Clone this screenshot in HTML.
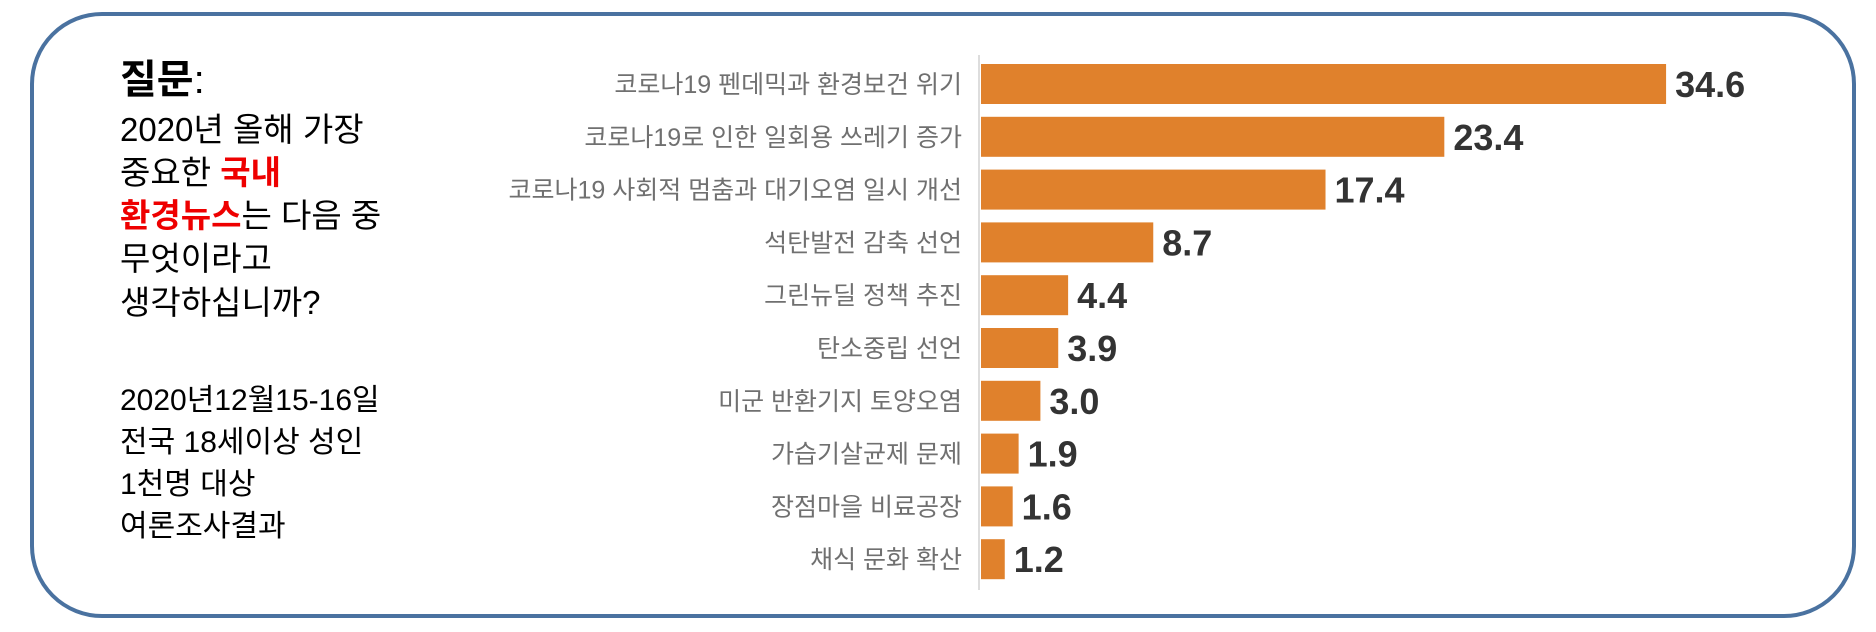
<!DOCTYPE html>
<html><head><meta charset="utf-8"><style>
body{margin:0;width:1876px;height:632px;background:#fff;overflow:hidden;font-family:"Liberation Sans","Noto Sans CJK KR",sans-serif}
.frame{position:absolute;left:30px;top:12px;width:1826px;height:606px;border:4px solid #4a72a0;border-radius:72px;box-sizing:border-box}
.q{position:absolute;left:120px;color:#000;white-space:nowrap;line-height:1}
.red{color:#e00;font-weight:bold}
</style></head><body>
<div class="frame"></div>
<div>
<div class="q" style="top:60px;font-size:40px;font-weight:bold">질문<span style="font-weight:normal">:</span></div>
<div class="q" style="top:113px;font-size:33px">2020년 올해 가장</div>
<div class="q" style="top:156px;font-size:33px">중요한 <span class="red">국내</span></div>
<div class="q" style="top:199px;font-size:33px"><span class="red">환경뉴스</span>는 다음 중</div>
<div class="q" style="top:242px;font-size:33px">무엇이라고</div>
<div class="q" style="top:286px;font-size:33px">생각하십니까?</div>
<div class="q" style="top:386px;font-size:30px">2020년12월15-16일</div>
<div class="q" style="top:428px;font-size:30px">전국 18세이상 성인</div>
<div class="q" style="top:470px;font-size:30px">1천명 대상</div>
<div class="q" style="top:512px;font-size:30px">여론조사결과</div>
</div>
<svg id="chart" width="1876" height="632" style="position:absolute;left:0;top:0"></svg>
<script>
const categories=["코로나19 펜데믹과 환경보건 위기","코로나19로 인한 일회용 쓰레기 증가","코로나19 사회적 멈춤과 대기오염 일시 개선","석탄발전 감축 선언","그린뉴딜 정책 추진","탄소중립 선언","미군 반환기지 토양오염","가습기살균제 문제","장점마을 비료공장","채식 문화 확산"];
const values=[34.6,23.4,17.4,8.7,4.4,3.9,3.0,1.9,1.6,1.2];
const valueLabels=["34.6","23.4","17.4","8.7","4.4","3.9","3.0","1.9","1.6","1.2"];
const svg=document.getElementById('chart');
const NS='http://www.w3.org/2000/svg';
const x0=981,pxPer=19.8,y0=84,step=52.8,bh=40;
function xs(v){return x0+v*pxPer;}
function yc(i){return y0+i*step;}
const ax=document.createElementNS(NS,'line');
ax.setAttribute('x1',979);ax.setAttribute('x2',979);ax.setAttribute('y1',55);ax.setAttribute('y2',590);
ax.setAttribute('stroke','#ddd');ax.setAttribute('stroke-width','2');


svg.appendChild(ax);
categories.forEach((c,i)=>{
  const r=document.createElementNS(NS,'rect');
  r.setAttribute('x',x0);r.setAttribute('y',yc(i)-bh/2);
  r.setAttribute('width',xs(values[i])-x0);r.setAttribute('height',bh);
  r.setAttribute('fill','#e0812c');
  
  
  svg.appendChild(r);
  const t=document.createElementNS(NS,'text');
  t.setAttribute('x',962);t.setAttribute('y',yc(i)+9);
  t.setAttribute('text-anchor','end');t.setAttribute('font-size','25');t.setAttribute('fill','#707070');
  t.setAttribute('font-family','"Liberation Sans","Noto Sans CJK KR",sans-serif');
  t.textContent=c;
  
  
  svg.appendChild(t);
  const v=document.createElementNS(NS,'text');
  v.setAttribute('x',xs(values[i])+9);v.setAttribute('y',yc(i)+13);
  v.setAttribute('font-size','36');v.setAttribute('font-weight','bold');v.setAttribute('fill','#333');
  v.setAttribute('font-family','"Liberation Sans",sans-serif');
  v.textContent=valueLabels[i];
  
  
  svg.appendChild(v);
});
</script>
</body></html>
